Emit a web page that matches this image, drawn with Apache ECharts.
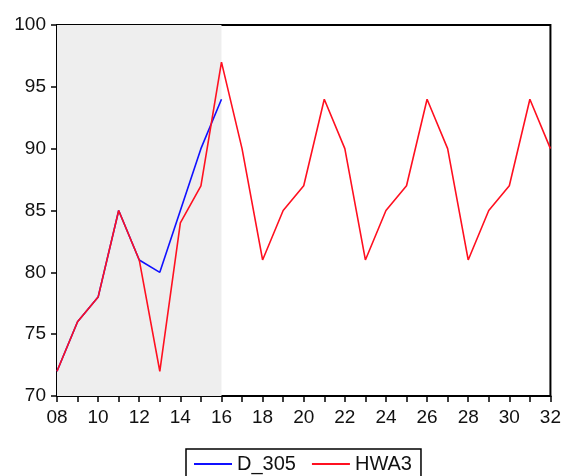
<!DOCTYPE html>
<html><head><meta charset="utf-8">
<script src="https://cdn.jsdelivr.net/npm/echarts@6/dist/echarts.min.js"></script>
<style>html,body{margin:0;padding:0;background:#fff}#c{width:564px;height:476px}</style>
</head><body><div id="c"></div>
<script>
const years = ['08','09','10','11','12','13','14','15','16','17','18','19','20','21','22','23','24','25','26','27','28','29','30','31','32'];
const d305 = [72,76,78,85,81,80,85,90,94];
const hwa3 = [72,76,78,85,81,72,84,87,97,90,81,85,87,94,90,81,85,87,94,90,81,85,87,94,90];
const yTicks = [70,75,80,85,90,95,100];
const shadeRange = ['08','16'];

const chart = echarts.init(document.getElementById('c'));
const font = 'Liberation Sans, Arial, sans-serif';
chart.setOption({
  animation:false,
  backgroundColor:'#fff',
  grid:{left:57,right:11,top:25,bottom:80,show:true,borderColor:'#000',borderWidth:2,backgroundColor:'transparent'},
  legend:{
    top:449,left:186,
    data:['D_305','HWA3'],
    icon:'path://M0,0 L40,0 L40,2 L0,2 Z',
    itemWidth:38,itemHeight:2,itemGap:16,
    borderColor:'#000',borderWidth:1.5,padding:[5,9,8,8],
    textStyle:{fontFamily:font,fontSize:20,color:'#111'}
  },
  xAxis:{
    type:'category',data:years,boundaryGap:false,
    axisLine:{lineStyle:{color:'#000',width:2}},
    axisTick:{show:true,interval:0,length:6,lineStyle:{color:'#000',width:1.5}},
    axisLabel:{interval:1,fontFamily:font,fontSize:19,color:'#111',margin:12},
    splitLine:{show:false}
  },
  yAxis:{
    type:'value',min:70,max:100,interval:5,
    axisLine:{show:true,lineStyle:{color:'#000',width:2}},
    axisTick:{show:true,length:6,lineStyle:{color:'#000',width:1.5}},
    axisLabel:{fontFamily:font,fontSize:19,color:'#111',margin:11,
      formatter:v=>yTicks.includes(v)?String(v):''},
    splitLine:{show:false}
  },
  series:[
    {name:'D_305',type:'line',data:d305,symbol:'none',z:3,
      lineStyle:{color:'#1010ff',width:1.6},itemStyle:{color:'#1010ff'},
      markArea:{silent:true,itemStyle:{color:'#eeeeee'},data:[[{xAxis:shadeRange[0]},{xAxis:shadeRange[1]}]]}
    },
    {name:'HWA3',type:'line',data:hwa3,symbol:'none',z:4,
      lineStyle:{color:'#ff1020',width:1.6},itemStyle:{color:'#ff1020'}}
  ]
});
</script></body></html>
